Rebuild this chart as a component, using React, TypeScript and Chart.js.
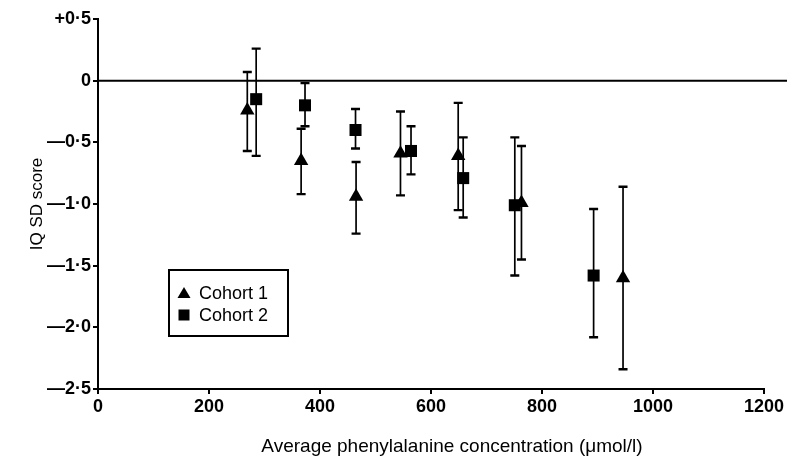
import { useEffect, useRef } from 'react';
import { Chart, registerables } from 'chart.js';

Chart.register(...registerables);

// Cohort 1 (triangles): x = average phenylalanine (µmol/l), y = IQ SD score, with error-bar ends
const cohort1X = [269, 366, 465, 545, 649, 763, 946];
const cohort1Y = [-0.24, -0.65, -0.94, -0.59, -0.61, -0.99, -1.6];
const cohort1Hi = [0.07, -0.39, -0.66, -0.25, -0.18, -0.53, -0.86];
const cohort1Lo = [-0.57, -0.92, -1.24, -0.93, -1.05, -1.45, -2.34];

// Cohort 2 (squares)
const cohort2X = [285, 373, 464, 564, 658, 751, 893];
const cohort2Y = [-0.15, -0.2, -0.4, -0.57, -0.79, -1.01, -1.58];
const cohort2Hi = [0.26, -0.02, -0.23, -0.37, -0.46, -0.46, -1.04];
const cohort2Lo = [-0.61, -0.37, -0.55, -0.76, -1.11, -1.58, -2.08];

const xTickValues = [0, 200, 400, 600, 800, 1000, 1200];
const xTickLabels = ['0', '200', '400', '600', '800', '1000', '1200'];
const yTickValues = [0.5, 0, -0.5, -1, -1.5, -2, -2.5];
const yTickLabels = ['+0·5', '0', '—0·5', '—1·0', '—1·5', '—2·0', '—2·5'];

const seriesNames = ['Cohort 1', 'Cohort 2'];
const xTitle = 'Average phenylalanine concentration (μmol/l)';
const yTitle = 'IQ SD score';

const FONT = "'Liberation Sans', Arial, Helvetica, sans-serif";

const errorBars = {
  id: 'errorBars',
  beforeDatasetsDraw(chart: any) {
    const { ctx } = chart;
    const xs = chart.scales.x;
    const ys = chart.scales.y;
    const sets = [
      { x: cohort1X, hi: cohort1Hi, lo: cohort1Lo },
      { x: cohort2X, hi: cohort2Hi, lo: cohort2Lo },
    ];
    ctx.save();
    ctx.strokeStyle = '#000';
    sets.forEach((s) => {
      s.x.forEach((xv, i) => {
        const px = xs.getPixelForValue(xv);
        const pHi = ys.getPixelForValue(s.hi[i]);
        const pLo = ys.getPixelForValue(s.lo[i]);
        ctx.lineWidth = 1.7;
        ctx.beginPath();
        ctx.moveTo(px, pHi);
        ctx.lineTo(px, pLo);
        ctx.stroke();
        ctx.lineWidth = 2.4;
        ctx.beginPath();
        ctx.moveTo(px - 4.5, pHi);
        ctx.lineTo(px + 4.5, pHi);
        ctx.moveTo(px - 4.5, pLo);
        ctx.lineTo(px + 4.5, pLo);
        ctx.stroke();
      });
    });
    ctx.restore();
  },
};

const zeroLine = {
  id: 'zeroLine',
  beforeDatasetsDraw(chart: any) {
    const { ctx, chartArea } = chart;
    const y = chart.scales.y.getPixelForValue(0);
    ctx.save();
    ctx.strokeStyle = '#000';
    ctx.lineWidth = 2;
    ctx.beginPath();
    ctx.moveTo(chartArea.left, y);
    ctx.lineTo(chart.width, y);
    ctx.stroke();
    ctx.restore();
  },
};

const xTitlePlugin = {
  id: 'xTitlePlugin',
  afterDraw(chart: any) {
    const { ctx, chartArea } = chart;
    ctx.save();
    ctx.fillStyle = '#000';
    ctx.font = `19px ${FONT}`;
    ctx.textAlign = 'center';
    ctx.textBaseline = 'middle';
    ctx.fillText(xTitle, (chartArea.left + chartArea.right) / 2 + 21, chartArea.bottom + 58);
    ctx.restore();
  },
};

const legendBox = {
  id: 'legendBox',
  afterDraw(chart: any) {
    const { ctx, chartArea } = chart;
    const bx = chartArea.left + 71;
    const by = chartArea.top + 251;
    const bw = 119;
    const bh = 66;
    ctx.save();
    ctx.fillStyle = '#fff';
    ctx.fillRect(bx, by, bw, bh);
    ctx.strokeStyle = '#000';
    ctx.lineWidth = 2;
    ctx.strokeRect(bx, by, bw, bh);
    ctx.fillStyle = '#000';
    // triangle glyph
    const tx = bx + 15;
    const ty = by + 23;
    ctx.beginPath();
    ctx.moveTo(tx, ty - 6);
    ctx.lineTo(tx + 6.5, ty + 5);
    ctx.lineTo(tx - 6.5, ty + 5);
    ctx.closePath();
    ctx.fill();
    // square glyph
    const sx = bx + 15;
    const sy = by + 45;
    ctx.fillRect(sx - 5.5, sy - 5.5, 11, 11);
    ctx.font = `18px ${FONT}`;
    ctx.textBaseline = 'middle';
    ctx.textAlign = 'left';
    ctx.fillText(seriesNames[0], bx + 30, ty + 1);
    ctx.fillText(seriesNames[1], bx + 30, sy + 1);
    ctx.restore();
  },
};

export default function App() {
  const ref = useRef<HTMLCanvasElement | null>(null);

  useEffect(() => {
    document.body.style.margin = '0';
    const canvas = ref.current;
    if (!canvas) return;
    const chart = new Chart(canvas, {
      type: 'scatter',
      data: {
        datasets: [
          {
            label: seriesNames[0],
            data: cohort1X.map((x, i) => ({ x, y: cohort1Y[i] })),
            pointStyle: 'triangle',
            pointRadius: 8.3,
            backgroundColor: '#000',
            borderColor: '#000',
            borderWidth: 0,
          },
          {
            label: seriesNames[1],
            data: cohort2X.map((x, i) => ({ x, y: cohort2Y[i] })),
            pointStyle: 'rect',
            pointRadius: 8.5,
            backgroundColor: '#000',
            borderColor: '#000',
            borderWidth: 0,
          },
        ],
      },
      options: {
        responsive: false,
        animation: false,
        layout: { padding: { left: 0, right: 23, top: 19, bottom: 0 } },
        plugins: {
          legend: { display: false },
          tooltip: { enabled: false },
        },
        scales: {
          x: {
            type: 'linear',
            min: 0,
            max: 1200,
            afterBuildTicks(scale: any) {
              scale.ticks = xTickValues.map((v) => ({ value: v }));
            },
            afterFit(scale: any) {
              scale.height = 70;
            },
            ticks: {
              color: '#000',
              font: { family: FONT, size: 18, weight: 'bold' },
              padding: 2,
              maxRotation: 0,
              autoSkip: false,
              callback: (v: any) => {
                const i = xTickValues.indexOf(Number(v));
                return i >= 0 ? xTickLabels[i] : '';
              },
            },
            grid: {
              display: true,
              drawOnChartArea: false,
              drawTicks: true,
              tickLength: 5,
              color: '#000',
              lineWidth: 2,
            },
            border: { display: true, color: '#000', width: 2 },
            title: { display: false },
          },
          y: {
            type: 'linear',
            min: -2.5,
            max: 0.5,
            afterBuildTicks(scale: any) {
              scale.ticks = yTickValues.map((v) => ({ value: v }));
            },
            afterFit(scale: any) {
              scale.width = 98;
            },
            ticks: {
              color: '#000',
              font: { family: FONT, size: 18, weight: 'bold' },
              padding: 2,
              autoSkip: false,
              callback: (v: any) => {
                const i = yTickValues.findIndex((t) => Math.abs(t - Number(v)) < 1e-6);
                return i >= 0 ? yTickLabels[i] : '';
              },
            },
            grid: {
              display: true,
              drawOnChartArea: false,
              drawTicks: true,
              tickLength: 5,
              color: '#000',
              lineWidth: 2,
            },
            border: { display: true, color: '#000', width: 2 },
            title: {
              display: true,
              text: yTitle,
              color: '#000',
              font: { family: FONT, size: 17 },
              padding: { top: 27, bottom: 0 },
            },
          },
        },
      },
      plugins: [zeroLine, errorBars, legendBox, xTitlePlugin],
    } as any);
    return () => chart.destroy();
  }, []);

  return (
    <div style={{ position: 'absolute', left: 0, top: 0, width: 787, height: 459, background: '#fff' }}>
      <canvas ref={ref} width={787} height={459} style={{ display: 'block' }} />
    </div>
  );
}
